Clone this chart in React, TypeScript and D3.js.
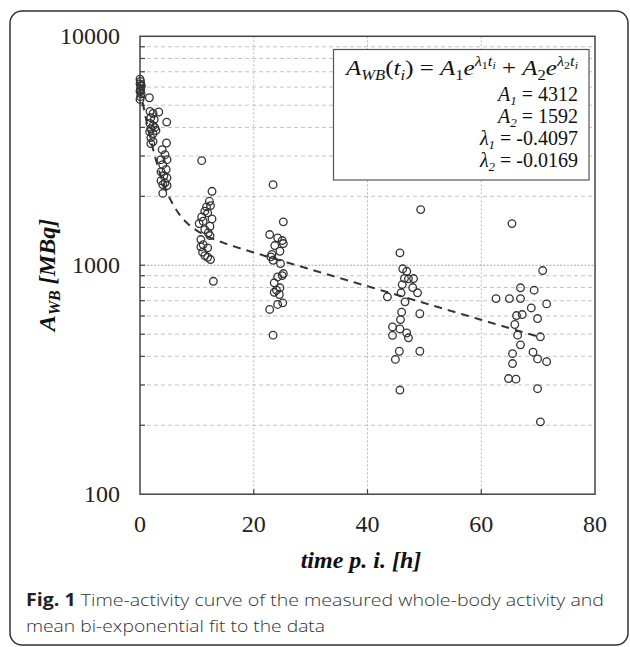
import React from "react";
import * as d3 from "d3";

// ---- data (time p.i. [h], whole-body activity [MBq]) ----
const timeH: number[] = [
  // t ~ 0
  0.0, 0.1, 0.0, 0.2, 0.1, 0.0, 0.2, 0.1, 0.0, 0.2, 0.1,
  // t ~ 2
  1.65, 1.75, 2.3, 3.3, 1.9, 2.5, 1.75, 2.3, 1.9, 2.6, 1.7, 2.3, 1.9, 2.3, 1.9, 2.8,
  // t ~ 4
  4.7, 4.66, 3.9, 4.4, 3.7, 4.75, 4.0, 4.6, 3.7, 4.2, 4.75, 3.7, 4.4, 4.0, 4.75, 4.0,
  // t ~ 12
  10.85, 12.66, 12.2, 12.4, 11.7, 11.4, 11.9, 10.85, 12.66, 11.1, 10.4, 12.3, 11.4, 12.0,
  12.3, 10.7, 11.1, 10.7, 11.9, 11.0, 11.4, 11.9, 12.4, 12.9,
  // t ~ 24
  23.4, 25.2, 22.8, 24.2, 25.0, 25.2, 23.7, 24.6, 23.2, 23.0, 23.4, 24.7, 25.2, 25.0,
  24.2, 23.6, 24.6, 24.0, 23.6, 24.5, 25.1, 24.2, 22.8, 23.4,
  // t ~ 46
  49.35, 45.7, 46.2, 46.9, 46.5, 47.2, 48.1, 46.1, 47.95, 48.8, 43.5, 45.9, 46.6, 49.2,
  46.0, 45.8, 44.4, 45.7, 46.9, 44.4, 47.2, 45.6, 49.2, 44.9, 45.7,
  // t ~ 67
  65.4, 70.8, 66.9, 69.3, 62.6, 64.95, 66.9, 71.5, 68.8, 66.2, 67.2, 69.9, 65.9, 66.4,
  70.4, 66.9, 69.1, 65.5, 69.9, 71.5, 65.5, 64.8, 66.1, 69.9, 70.4,
];
const activityMBq: number[] = [
  6500, 6350, 6200, 6050, 5900, 5750, 5600, 5450, 5300, 6100, 5800,
  5390, 4700, 4600, 4670, 4410, 4330, 4160, 4070, 3950, 3990, 3830, 3760, 3610, 3470, 3400, 3880,
  4220, 3420, 3200, 3040, 2890, 2890, 2750, 2620, 2560, 2460, 2410, 2340, 2290, 2250, 2230, 2060,
  2864, 2104, 1903, 1822, 1798, 1722, 1694, 1626, 1594, 1557, 1521, 1480, 1431, 1385,
  1348, 1295, 1231, 1203, 1191, 1140, 1102, 1084, 1059, 851,
  2249, 1547, 1362, 1317, 1282, 1244, 1219, 1151, 1114, 1088, 1051, 1017, 920, 901,
  889, 838, 797, 778, 762, 745, 685, 674, 641, 495,
  1750, 1132, 965, 941, 876, 872, 875, 823, 799, 758, 728, 758, 692, 614,
  624, 579, 538, 527, 506, 494, 482, 421, 421, 388, 285,
  1520, 948, 797, 778, 715, 715, 715, 678, 651, 603, 609, 585, 551, 495,
  487, 449, 417, 411, 390, 379, 372, 320, 318, 289, 207,
];

// fit parameters
const A1 = 4312;
const A2 = 1592;
const L1 = -0.4097;
const L2 = -0.0169;
const fitEndH = 70;

const xTicks = [0, 20, 40, 60, 80];
const yTicks = [100, 1000, 10000];
const yMinor = [200, 300, 400, 500, 600, 700, 800, 900, 2000, 3000, 4000, 5000, 6000, 7000, 8000, 9000];

const W = 630;
const H = 647;
const left = 140, right = 595, top = 36.3, bottom = 494.2;

const x = d3.scaleLinear().domain([0, 80]).range([left, right]);
const y = d3.scaleLog().domain([100, 10000]).range([bottom, top]);

type Seg = { t: string; off?: number; size?: number; it?: boolean };

function MathText({ segs, xPos, yPos, size, anchor = "end", family, textLength }: any) {
  let prev = 0;
  const extra: any = textLength ? { textLength, lengthAdjust: "spacingAndGlyphs" } : {};
  return (
    <text x={xPos} y={yPos} fontSize={size} textAnchor={anchor} fontFamily={family} fill="#111" {...extra}>
      {segs.map((s: Seg, i: number) => {
        const off = s.off || 0;
        const dy = off - prev;
        prev = off;
        return (
          <tspan key={i} dy={dy} fontSize={s.size || size} fontStyle={s.it ? "italic" : "normal"}>
            {s.t}
          </tspan>
        );
      })}
    </text>
  );
}

export default function App() {
  const fitPts = d3.range(0, fitEndH + 0.001, 0.2).map((t) => [t, A1 * Math.exp(L1 * t) + A2 * Math.exp(L2 * t)]);
  const line = d3
    .line<number[]>()
    .x((d) => x(d[0]))
    .y((d) => y(d[1]));

  const fam = "'Liberation Serif', 'Times New Roman', serif";
  const mathFam = "'Liberation Serif', 'Times New Roman', serif";
  const ls = 21;
  const sub = 14;

  const line1: Seg[] = [
    { t: "A", it: true },
    { t: "WB", it: true, off: 5, size: sub },
    { t: "(" },
    { t: "t", it: true },
    { t: "i", it: true, off: 5, size: sub },
    { t: ") = " },
    { t: "A", it: true },
    { t: "1", off: 5, size: sub },
    { t: "e", it: true },
    { t: "λ", it: true, off: -9, size: sub },
    { t: "1", off: -6, size: 10 },
    { t: "t", it: true, off: -9, size: sub },
    { t: "i", it: true, off: -6, size: 10 },
    { t: " + " },
    { t: "A", it: true },
    { t: "2", off: 5, size: sub },
    { t: "e", it: true },
    { t: "λ", it: true, off: -9, size: sub },
    { t: "2", off: -6, size: 10 },
    { t: "t", it: true, off: -9, size: sub },
    { t: "i", it: true, off: -6, size: 10 },
  ];
  const rows: { sym: string; idx: string; val: string; yy: number }[] = [
    { sym: "A", idx: "1", val: String(A1), yy: 101 },
    { sym: "A", idx: "2", val: String(A2), yy: 123 },
    { sym: "λ", idx: "1", val: String(L1), yy: 145 },
    { sym: "λ", idx: "2", val: String(L2), yy: 167 },
  ];

  return (
    <svg width={W} height={H} style={{ position: "absolute", left: 0, top: 0, background: "#fff" }}>
      <rect x={10} y={11} width={618} height={634} rx={12} fill="#fff" stroke="#333" strokeWidth={1.5} />

      {/* grid */}
      {yMinor.map((v) => (
        <line key={"g" + v} x1={left} x2={right} y1={y(v)} y2={y(v)} stroke="#c4c4c4" strokeWidth={1} strokeDasharray="4,3" />
      ))}
      <line x1={left} x2={right} y1={y(1000)} y2={y(1000)} stroke="#aaa" strokeWidth={1.2} strokeDasharray="2,1.5" />
      {[20, 40, 60].map((t) => (
        <line key={"vx" + t} x1={x(t)} x2={x(t)} y1={top} y2={bottom} stroke="#bbb" strokeWidth={1} strokeDasharray="2,2" />
      ))}

      {/* minor ticks */}
      {yMinor.concat([1000]).map((v) => (
        <line key={"t" + v} x1={left} x2={left + 5} y1={y(v)} y2={y(v)} stroke="#444" strokeWidth={1.2} />
      ))}
      {[20, 40, 60].map((t) => (
        <line key={"xt" + t} x1={x(t)} x2={x(t)} y1={bottom} y2={bottom - 5} stroke="#444" strokeWidth={1.2} />
      ))}

      {/* frame */}
      <rect x={left} y={top} width={right - left} height={bottom - top} fill="none" stroke="#444" strokeWidth={1.5} />

      {/* legend box */}
      <rect x={333.5} y={49.5} width={255.5} height={130.5} fill="#fff" stroke="#555" strokeWidth={1.2} />
      <MathText segs={line1} xPos={578} yPos={75} size={ls} family={mathFam} textLength={232} />
      {rows.map((r) => (
        <MathText
          key={r.sym + r.idx}
          segs={[
            { t: r.sym, it: true },
            { t: r.idx, it: true, off: 4, size: 13 },
            { t: " = " + r.val },
          ]}
          xPos={578}
          yPos={r.yy}
          size={20}
          family={mathFam}
        />
      ))}

      {/* fit */}
      <path d={line(fitPts) || ""} fill="none" stroke="#333" strokeWidth={2} strokeDasharray="8,6" />

      {/* points */}
      {timeH.map((t, i) => (
        <circle key={"p" + i} cx={x(t)} cy={y(activityMBq[i])} r={3.8} fill="none" stroke="#333" strokeWidth={1.3} />
      ))}

      {/* tick labels */}
      {yTicks.map((v) => (
        <text key={"yl" + v} x={120} y={y(v) + 8} textAnchor="end" fontFamily={fam} fontSize={24} fill="#222">
          {v}
        </text>
      ))}
      {xTicks.map((t) => (
        <text key={"xl" + t} x={x(t)} y={532} textAnchor="middle" fontFamily={fam} fontSize={24} fill="#222">
          {t}
        </text>
      ))}

      {/* axis titles */}
      <text x={361} y={568} textAnchor="middle" fontFamily={fam} fontSize={24} fontWeight="bold" fontStyle="italic" fill="#111">
        time p. i. [h]
      </text>
      <g transform="translate(55,275) rotate(-90)">
        <text x={0} y={0} textAnchor="middle" fontFamily={fam} fontSize={24} fontWeight="bold" fontStyle="italic" fill="#111">
          A<tspan fontSize={16} dy={5}>WB</tspan>
          <tspan dy={-5}> [MBq]</tspan>
        </text>
      </g>

      {/* caption */}
      <text x={26} y={606} fontFamily="'Open Sans', 'Noto Sans', sans-serif" fontSize={17} fontWeight={300} fill="#333" textLength={578} lengthAdjust="spacingAndGlyphs">
        <tspan fontWeight="bold" fill="#222">Fig. 1</tspan> Time-activity curve of the measured whole-body activity and
      </text>
      <text x={26} y={632} fontFamily="'Open Sans', 'Noto Sans', sans-serif" fontSize={17} fontWeight={300} fill="#333" textLength={299} lengthAdjust="spacingAndGlyphs">
        mean bi-exponential fit to the data
      </text>
    </svg>
  );
}
